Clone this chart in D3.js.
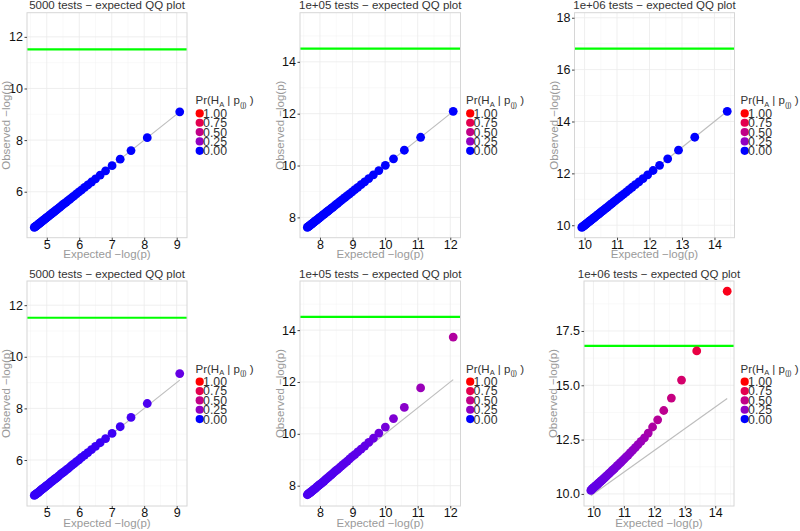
<!DOCTYPE html>
<html>
<head>
<meta charset="utf-8">
<script src="https://cdn.jsdelivr.net/npm/d3@7"></script>
<style>
  html, body { margin: 0; padding: 0; background: #fff; }
  svg { display: block; font-family: "Liberation Sans", Arial, sans-serif; }
</style>
</head>
<body>
<svg id="chart" width="800" height="531"></svg>
<script>
// ---------------- data ----------------
const panelTitles = [
  "5000 tests \u2212 expected QQ plot",
  "1e+05 tests \u2212 expected QQ plot",
  "1e+06 tests \u2212 expected QQ plot",
  "5000 tests \u2212 expected QQ plot",
  "1e+05 tests \u2212 expected QQ plot",
  "1e+06 tests \u2212 expected QQ plot"
];

// expected -log(p) of the 50 smallest p-values
const expected5000 = [9.094, 8.094, 7.594, 7.261, 7.011, 6.811, 6.644, 6.501, 6.376, 6.265,
  6.165, 6.074, 5.991, 5.914, 5.842, 5.776, 5.713, 5.655, 5.599, 5.546,
  5.496, 5.449, 5.403, 5.360, 5.318, 5.278, 5.240, 5.203, 5.167, 5.132,
  5.099, 5.067, 5.036, 5.005, 4.976, 4.947, 4.919, 4.892, 4.866, 4.841,
  4.816, 4.791, 4.767, 4.744, 4.721, 4.699, 4.677, 4.656, 4.635, 4.615];
const expected1e5 = [12.090, 11.090, 10.590, 10.257, 10.007, 9.807, 9.640, 9.497, 9.372, 9.261,
  9.161, 9.070, 8.987, 8.910, 8.838, 8.772, 8.709, 8.651, 8.595, 8.542,
  8.492, 8.445, 8.399, 8.356, 8.314, 8.274, 8.236, 8.199, 8.163, 8.128,
  8.095, 8.063, 8.032, 8.001, 7.972, 7.943, 7.915, 7.888, 7.862, 7.837,
  7.812, 7.787, 7.763, 7.740, 7.717, 7.695, 7.673, 7.652, 7.631, 7.611];
const expected1e6 = [14.393, 13.393, 12.893, 12.560, 12.310, 12.110, 11.943, 11.800, 11.675, 11.564,
  11.464, 11.373, 11.290, 11.213, 11.141, 11.075, 11.012, 10.954, 10.898, 10.845,
  10.795, 10.748, 10.702, 10.659, 10.617, 10.577, 10.539, 10.502, 10.466, 10.431,
  10.398, 10.366, 10.335, 10.304, 10.275, 10.246, 10.218, 10.191, 10.165, 10.140,
  10.115, 10.090, 10.066, 10.043, 10.020, 9.998, 9.976, 9.955, 9.934, 9.914];

// observed -log(p), top row: on the diagonal
const observedTop5000 = expected5000;
const observedTop1e5 = expected1e5;
const observedTop1e6 = expected1e6;

// observed -log(p), bottom row
const observedBottom5000 = [9.35, 8.19, 7.65, 7.29, 7.03, 6.83, 6.67, 6.53, 6.40, 6.29,
  6.19, 6.10, 6.01, 5.94, 5.86, 5.80, 5.73, 5.67, 5.62, 5.56,
  5.51, 5.47, 5.42, 5.38, 5.33, 5.29, 5.26, 5.22, 5.18, 5.15,
  5.11, 5.08, 5.05, 5.02, 4.99, 4.96, 4.93, 4.90, 4.88, 4.85,
  4.83, 4.80, 4.78, 4.75, 4.73, 4.71, 4.69, 4.67, 4.65, 4.63];
const observedBottom1e5 = [13.73, 11.77, 11.02, 10.59, 10.26, 10.03, 9.83, 9.67, 9.53, 9.41,
  9.30, 9.20, 9.12, 9.03, 8.95, 8.88, 8.81, 8.75, 8.69, 8.63,
  8.58, 8.53, 8.48, 8.43, 8.39, 8.34, 8.30, 8.26, 8.22, 8.18,
  8.15, 8.11, 8.08, 8.05, 8.02, 7.99, 7.96, 7.93, 7.90, 7.88,
  7.85, 7.83, 7.80, 7.78, 7.75, 7.73, 7.71, 7.69, 7.67, 7.65];
const observedBottom1e6 = [19.33, 16.58, 15.24, 14.41, 13.84, 13.41, 13.08, 12.80, 12.58, 12.42,
  12.27, 12.13, 12.01, 11.90, 11.79, 11.70, 11.61, 11.53, 11.45, 11.38,
  11.31, 11.25, 11.19, 11.13, 11.07, 11.02, 10.97, 10.92, 10.87, 10.83,
  10.78, 10.74, 10.70, 10.66, 10.62, 10.59, 10.55, 10.52, 10.48, 10.45,
  10.42, 10.39, 10.36, 10.33, 10.30, 10.28, 10.25, 10.22, 10.19, 10.16];

// Pr(H_A | p_(j))
const probTop = [0,0,0,0,0,0,0,0,0,0, 0,0,0,0,0,0,0,0,0,0, 0,0,0,0,0,0,0,0,0,0,
  0,0,0,0,0,0,0,0,0,0, 0,0,0,0,0,0,0,0,0,0];
const probBottom5000 = [0.11, 0.06, 0.05, 0.04, 0.04, 0.04, 0.035, 0.035, 0.035, 0.03,
  0.03, 0.03, 0.03, 0.03, 0.03, 0.03, 0.03, 0.03, 0.03, 0.03,
  0.03, 0.03, 0.03, 0.03, 0.03, 0.03, 0.03, 0.03, 0.03, 0.03,
  0.03, 0.03, 0.03, 0.03, 0.03, 0.03, 0.03, 0.03, 0.03, 0.03,
  0.03, 0.03, 0.03, 0.03, 0.03, 0.03, 0.03, 0.03, 0.03, 0.03];
const probBottom1e5 = [0.40, 0.29, 0.22, 0.18, 0.15, 0.13, 0.12, 0.11, 0.10, 0.10,
  0.09, 0.09, 0.09, 0.085, 0.085, 0.08, 0.08, 0.08, 0.08, 0.075,
  0.075, 0.075, 0.07, 0.07, 0.07, 0.07, 0.07, 0.07, 0.065, 0.065,
  0.065, 0.065, 0.065, 0.065, 0.06, 0.06, 0.06, 0.06, 0.06, 0.06,
  0.06, 0.06, 0.06, 0.06, 0.06, 0.06, 0.06, 0.06, 0.06, 0.06];
const probBottom1e6 = [0.95, 0.80, 0.63, 0.53, 0.47, 0.43, 0.39, 0.35, 0.32, 0.30,
  0.28, 0.26, 0.25, 0.24, 0.23, 0.22, 0.21, 0.20, 0.19, 0.19,
  0.18, 0.18, 0.17, 0.17, 0.16, 0.16, 0.15, 0.15, 0.15, 0.14,
  0.14, 0.14, 0.13, 0.13, 0.13, 0.13, 0.12, 0.12, 0.12, 0.12,
  0.11, 0.11, 0.11, 0.11, 0.11, 0.10, 0.10, 0.10, 0.10, 0.10];

// significance thresholds (green lines)
const thresholds = [11.513, 14.509, 16.811, 11.513, 14.509, 16.811];

// y data ranges before 5% expansion
const yRanges = [[4.615, 12.54], [7.611, 15.5], [9.914, 17.8], [4.615, 12.54], [7.611, 15.5], [9.914, 19.33]];

// tick labels
const xTicks = [[5,6,7,8,9],[8,9,10,11,12],[10,11,12,13,14],[5,6,7,8,9],[8,9,10,11,12],[10,11,12,13,14]];
const yTicks = [[6,8,10,12],[8,10,12,14],[10,12,14,16,18],[6,8,10,12],[8,10,12,14],[10,12.5,15,17.5]];
const yTickFormats = ["d","d","d","d","d",".1f"];

const legendValues = [1.00, 0.75, 0.50, 0.25, 0.00];

// ---------------- layout ----------------
const layout = [
  {L: 27,    R: 187,   T: 12.7, B: 237.7, legX: 195.5, yTitleX: 9.5},
  {L: 300,   R: 460.5, T: 12.7, B: 237.7, legX: 466,   yTitleX: 284},
  {L: 574.5, R: 734.5, T: 12.7, B: 237.7, legX: 740.5, yTitleX: 557.5},
  {L: 27,    R: 187,   T: 281,  B: 506,   legX: 195.5, yTitleX: 9.5},
  {L: 300,   R: 460.5, T: 281,  B: 506,   legX: 466,   yTitleX: 284},
  {L: 584,   R: 734,   T: 281,  B: 506,   legX: 740.5, yTitleX: 557}
];

const xsList = [expected5000, expected1e5, expected1e6, expected5000, expected1e5, expected1e6];
const ysList = [observedTop5000, observedTop1e5, observedTop1e6, observedBottom5000, observedBottom1e5, observedBottom1e6];
const probList = [probTop, probTop, probTop, probBottom5000, probBottom1e5, probBottom1e6];

const color = d3.scaleLinear().domain([0, 1]).range(["blue", "red"]).interpolate(d3.interpolateLab);
const FONT = "Liberation Sans, Arial, sans-serif";

const svg = d3.select("#chart");

function expand(ext) {
  const r = ext[1] - ext[0];
  return [ext[0] - 0.05 * r, ext[1] + 0.05 * r];
}

function minorBreaks(ticks, domain) {
  const step = ticks[1] - ticks[0];
  const out = [];
  for (let v = ticks[0] - step / 2; v <= domain[1]; v += step) {
    if (v >= domain[0]) out.push(v);
  }
  return out;
}

for (let i = 0; i < 6; i++) {
  const lay = layout[i];
  const xs = xsList[i], ys = ysList[i], pr = probList[i];
  const xDom = expand(d3.extent(xs));
  const yDom = expand(yRanges[i]);
  const x = d3.scaleLinear().domain(xDom).range([lay.L, lay.R]);
  const y = d3.scaleLinear().domain(yDom).range([lay.B, lay.T]);
  const g = svg.append("g");

  // grid
  const grid = g.append("g");
  minorBreaks(xTicks[i], xDom).forEach(v => grid.append("line")
    .attr("x1", x(v)).attr("x2", x(v)).attr("y1", lay.T).attr("y2", lay.B)
    .attr("stroke", "#f3f3f3").attr("stroke-width", 0.5));
  minorBreaks(yTicks[i], yDom).forEach(v => grid.append("line")
    .attr("y1", y(v)).attr("y2", y(v)).attr("x1", lay.L).attr("x2", lay.R)
    .attr("stroke", "#f3f3f3").attr("stroke-width", 0.5));
  xTicks[i].forEach(v => grid.append("line")
    .attr("x1", x(v)).attr("x2", x(v)).attr("y1", lay.T).attr("y2", lay.B)
    .attr("stroke", "#ebebeb").attr("stroke-width", 0.8));
  yTicks[i].forEach(v => grid.append("line")
    .attr("y1", y(v)).attr("y2", y(v)).attr("x1", lay.L).attr("x2", lay.R)
    .attr("stroke", "#ebebeb").attr("stroke-width", 0.8));

  // reference diagonal
  const ext = d3.extent(xs);
  g.append("line")
    .attr("x1", x(ext[0])).attr("y1", y(ext[0]))
    .attr("x2", x(ext[1])).attr("y2", y(ext[1]))
    .attr("stroke", "#bdbdbd").attr("stroke-width", 1.1);

  // threshold
  g.append("line")
    .attr("x1", lay.L).attr("x2", lay.R)
    .attr("y1", y(thresholds[i])).attr("y2", y(thresholds[i]))
    .attr("stroke", "#00ff00").attr("stroke-width", 2.2);

  // points
  const pts = xs.map((v, k) => ({x: v, y: ys[k], p: pr[k]}));
  g.append("g").selectAll("circle").data(pts).join("circle")
    .attr("cx", d => x(d.x)).attr("cy", d => y(d.y)).attr("r", 4.4)
    .attr("fill", d => color(d.p));

  // panel border
  g.append("rect")
    .attr("x", lay.L).attr("y", lay.T)
    .attr("width", lay.R - lay.L).attr("height", lay.B - lay.T)
    .attr("fill", "none").attr("stroke", "#d6d6d6").attr("stroke-width", 1);

  // axes
  const xAxis = d3.axisBottom(x).tickValues(xTicks[i]).tickSize(2.5).tickFormat(d3.format("d"));
  const ax = g.append("g").attr("transform", `translate(0,${lay.B})`).call(xAxis);
  ax.select(".domain").remove();
  ax.selectAll("line").attr("stroke", "#444");
  ax.selectAll("text").attr("y", 11).attr("dy", 0).attr("font-size", 12.5).attr("fill", "#111")
    .attr("font-family", FONT);

  const yAxis = d3.axisLeft(y).tickValues(yTicks[i]).tickSize(2.5).tickPadding(1.5).tickFormat(d3.format(yTickFormats[i]));
  const ay = g.append("g").attr("transform", `translate(${lay.L},0)`).call(yAxis);
  ay.select(".domain").remove();
  ay.selectAll("line").attr("stroke", "#444");
  ay.selectAll("text").attr("font-size", 12.5).attr("fill", "#111")
    .attr("font-family", FONT);

  // title
  g.append("text")
    .attr("x", (lay.L + lay.R) / 2).attr("y", lay.T - 3.3)
    .attr("text-anchor", "middle").attr("font-size", 11.5).attr("fill", "#333")
    .text(panelTitles[i]);

  // axis titles
  g.append("text")
    .attr("x", (lay.L + lay.R) / 2).attr("y", lay.B + 20.6)
    .attr("text-anchor", "middle").attr("font-size", 11.5).attr("fill", "#9a9a9a")
    .text("Expected \u2212log(p)");
  g.append("text")
    .attr("transform", `translate(${lay.yTitleX},${(lay.T + lay.B) / 2}) rotate(-90)`)
    .attr("text-anchor", "middle").attr("font-size", 11.5).attr("fill", "#9a9a9a")
    .text("Observed \u2212log(p)");

  // legend
  const cy = (lay.T + lay.B) / 2;
  const leg = g.append("g");
  const lt = leg.append("text").attr("x", lay.legX).attr("y", cy - 21)
    .attr("font-size", 11.5).attr("fill", "#333");
  lt.append("tspan").text("Pr(H");
  lt.append("tspan").attr("font-size", 7.5).attr("dy", 2.5).text("A");
  lt.append("tspan").attr("dy", -2.5).text(" | p");
  lt.append("tspan").attr("font-size", 7.5).attr("dy", 2.5).text("(j)");
  lt.append("tspan").attr("dy", -2.5).text(" )");
  legendValues.forEach((v, k) => {
    const ky = cy - 11.8 + k * 9.35;
    leg.append("circle").attr("cx", lay.legX + 4.2).attr("cy", ky).attr("r", 4.1).attr("fill", color(v));
    leg.append("text").attr("x", lay.legX + 7.6).attr("y", ky + 4.4)
      .attr("font-size", 12.3).attr("fill", "#333").text(d3.format(".2f")(v));
  });
}
</script>
</body>
</html>
